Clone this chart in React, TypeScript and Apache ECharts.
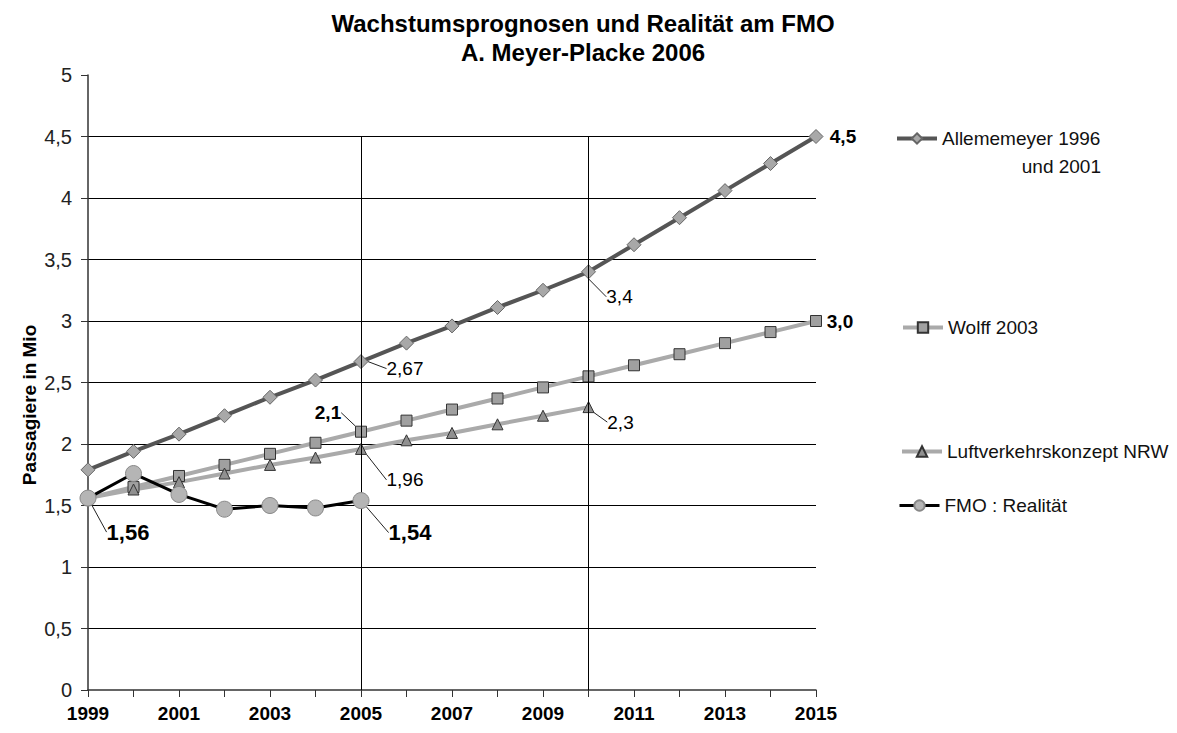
import React, { useEffect, useRef } from 'react';
import * as echarts from 'echarts';

const years = ['1999', '2000', '2001', '2002', '2003', '2004', '2005', '2006', '2007', '2008', '2009', '2010', '2011', '2012', '2013', '2014', '2015'];
const allememeyer = [1.79, 1.94, 2.08, 2.23, 2.38, 2.52, 2.67, 2.82, 2.96, 3.11, 3.25, 3.4, 3.62, 3.84, 4.06, 4.28, 4.5];
const wolff = [1.56, 1.65, 1.74, 1.83, 1.92, 2.01, 2.1, 2.19, 2.28, 2.37, 2.46, 2.55, 2.64, 2.73, 2.82, 2.91, 3.0];
const luftverkehr = [1.56, 1.63, 1.69, 1.76, 1.83, 1.89, 1.96, 2.03, 2.09, 2.16, 2.23, 2.3, null, null, null, null, null];
const fmo = [1.56, 1.76, 1.59, 1.47, 1.5, 1.48, 1.54, null, null, null, null, null, null, null, null, null, null];
const seriesNames = ['Allememeyer 1996 und 2001', 'Wolff 2003', 'Luftverkehrskonzept NRW', 'FMO : Realität'];

const FONT = '"Liberation Sans", Arial, sans-serif';

type LabelSpec = { index: number; dx: number; dy: number; bold: boolean; size: number; line: boolean };

const fmt = (v: number) => (Number.isInteger(v) ? v.toFixed(1) : String(v)).replace('.', ',');

function buildData(values: (number | null)[], specs: LabelSpec[]) {
  return values.map((v, i) => {
    const s = specs.find((x) => x.index === i);
    if (!s || v === null) return v;
    return {
      value: v,
      label: {
        show: true,
        position: 'inside',
        align: 'center',
        verticalAlign: 'middle',
        formatter: () => fmt(v),
        fontFamily: FONT,
        fontSize: s.size,
        fontWeight: s.bold ? 'bold' : 'normal',
        color: '#000',
      },
      labelLine: { show: s.line, lineStyle: { color: '#222', width: 1 } },
    };
  });
}

const allemLabels: LabelSpec[] = [
  { index: 6, dx: 44, dy: 7, bold: false, size: 19, line: true },
  { index: 11, dx: 31, dy: 25, bold: false, size: 19, line: true },
  { index: 16, dx: 27, dy: 0, bold: true, size: 19, line: false },
];
const wolffLabels: LabelSpec[] = [
  { index: 6, dx: -33, dy: -19, bold: true, size: 19, line: true },
  { index: 16, dx: 24, dy: 0, bold: true, size: 19, line: false },
];
const luftLabels: LabelSpec[] = [
  { index: 6, dx: 44, dy: 31, bold: false, size: 19, line: true },
  { index: 11, dx: 32, dy: 15, bold: false, size: 19, line: true },
];
const fmoLabels: LabelSpec[] = [
  { index: 0, dx: 40, dy: 34, bold: true, size: 22, line: true },
  { index: 6, dx: 49, dy: 32, bold: true, size: 22, line: true },
];

const layoutFor = (specs: LabelSpec[]) => (params: any) => {
  const s = specs.find((x) => x.index === params.dataIndex);
  return s ? { dx: s.dx, dy: s.dy } : {};
};

export default function App() {
  const ref = useRef<HTMLDivElement>(null);
  useEffect(() => {
    const chart = echarts.init(ref.current!, null, { renderer: 'svg' });
    const legendBase = {
      orient: 'vertical',
      itemWidth: 40,
      itemHeight: 13,
      itemGap: 5,
      textStyle: { fontFamily: FONT, fontSize: 19, color: '#111' },
      selectedMode: false,
    };
    chart.setOption({
      animation: false,
      backgroundColor: '#fff',
      title: {
        text: 'Wachstumsprognosen und Realität am FMO\nA. Meyer-Placke 2006',
        left: 578,
        textAlign: 'center',
        top: 4,
        textStyle: { fontFamily: FONT, fontSize: 24, fontWeight: 'bold', color: '#000', lineHeight: 29 },
      },
      legend: [
        { ...legendBase, data: [seriesNames[0]], left: 890, top: 124, formatter: () => 'Allememeyer 1996', lineStyle: { width: 4 } },
        { ...legendBase, data: [seriesNames[1]], left: 896, top: 313, lineStyle: { width: 4 } },
        { ...legendBase, data: [seriesNames[2]], left: 895, top: 437, lineStyle: { width: 4 } },
        { ...legendBase, data: [seriesNames[3]], left: 893, top: 491, lineStyle: { width: 3 } },
      ],
      graphic: [
        {
          type: 'text',
          x: 1101,
          y: 166,
          style: { text: 'und 2001', align: 'right', verticalAlign: 'middle', fontFamily: FONT, fontSize: 19, fill: '#111' },
        },
        {
          type: 'text',
          x: 29,
          y: 405,
          rotation: Math.PI / 2,
          style: {
            text: 'Passagiere in Mio',
            align: 'center',
            verticalAlign: 'middle',
            fontFamily: FONT,
            fontSize: 19,
            fontWeight: 'bold',
            fill: '#000',
          },
        },
      ],
      grid: { left: 88, right: 361, top: 75, bottom: 43, containLabel: false, outerBoundsMode: 'none' },
      xAxis: {
        type: 'category',
        data: years,
        boundaryGap: false,
        axisLine: { show: true, lineStyle: { color: '#333', width: 1.5 } },
        axisTick: { show: true, interval: 0, length: 7, lineStyle: { color: '#333' } },
        axisLabel: { interval: 1, margin: 14, fontFamily: FONT, fontSize: 19, fontWeight: 'bold', color: '#000' },
        splitLine: { show: false },
      },
      yAxis: {
        type: 'value',
        min: 0,
        max: 5,
        interval: 0.5,
        axisLine: { show: true, lineStyle: { color: '#333', width: 1.5 } },
        axisTick: { show: true, length: 7, lineStyle: { color: '#333' } },
        axisLabel: { margin: 16, fontFamily: FONT, fontSize: 20, color: '#222', formatter: (v: number) => String(v).replace('.', ',') },
        splitLine: { show: true, showMinLine: false, showMaxLine: false, lineStyle: { color: '#000', width: 1 } },
      },
      series: [
        {
          name: seriesNames[0],
          type: 'line',
          data: buildData(allememeyer, allemLabels),
          symbol: 'diamond',
          symbolSize: 14,
          lineStyle: { color: '#555', width: 4 },
          itemStyle: { color: '#a8a8a8', borderColor: '#666', borderWidth: 1 },
          labelLayout: layoutFor(allemLabels),
          z: 3,
          markLine: {
            silent: true,
            symbol: 'none',
            label: { show: false },
            lineStyle: { color: '#000', width: 1, type: 'solid' },
            data: [
              [{ coord: ['2005', 0] }, { coord: ['2005', 4.5] }],
              [{ coord: ['2010', 0] }, { coord: ['2010', 4.5] }],
            ],
          },
        },
        {
          name: seriesNames[1],
          type: 'line',
          data: buildData(wolff, wolffLabels),
          symbol: 'rect',
          symbolSize: 11,
          lineStyle: { color: '#aaa', width: 4 },
          itemStyle: { color: '#a0a0a0', borderColor: '#333', borderWidth: 1 },
          labelLayout: layoutFor(wolffLabels),
          z: 4,
        },
        {
          name: seriesNames[2],
          type: 'line',
          data: buildData(luftverkehr, luftLabels),
          symbol: 'triangle',
          symbolSize: 11,
          lineStyle: { color: '#aaa', width: 4 },
          itemStyle: { color: '#909090', borderColor: '#333', borderWidth: 1 },
          labelLayout: layoutFor(luftLabels),
          z: 4,
        },
        {
          name: seriesNames[3],
          type: 'line',
          data: buildData(fmo, fmoLabels),
          symbol: 'circle',
          symbolSize: 16,
          lineStyle: { color: '#000', width: 3 },
          itemStyle: { color: '#b5b5b5', borderColor: '#888', borderWidth: 1 },
          labelLayout: layoutFor(fmoLabels),
          z: 5,
        },
      ],
    });
    return () => chart.dispose();
  }, []);
  return <div ref={ref} style={{ position: 'absolute', left: 0, top: 0, width: 1177, height: 733 }} />;
}
